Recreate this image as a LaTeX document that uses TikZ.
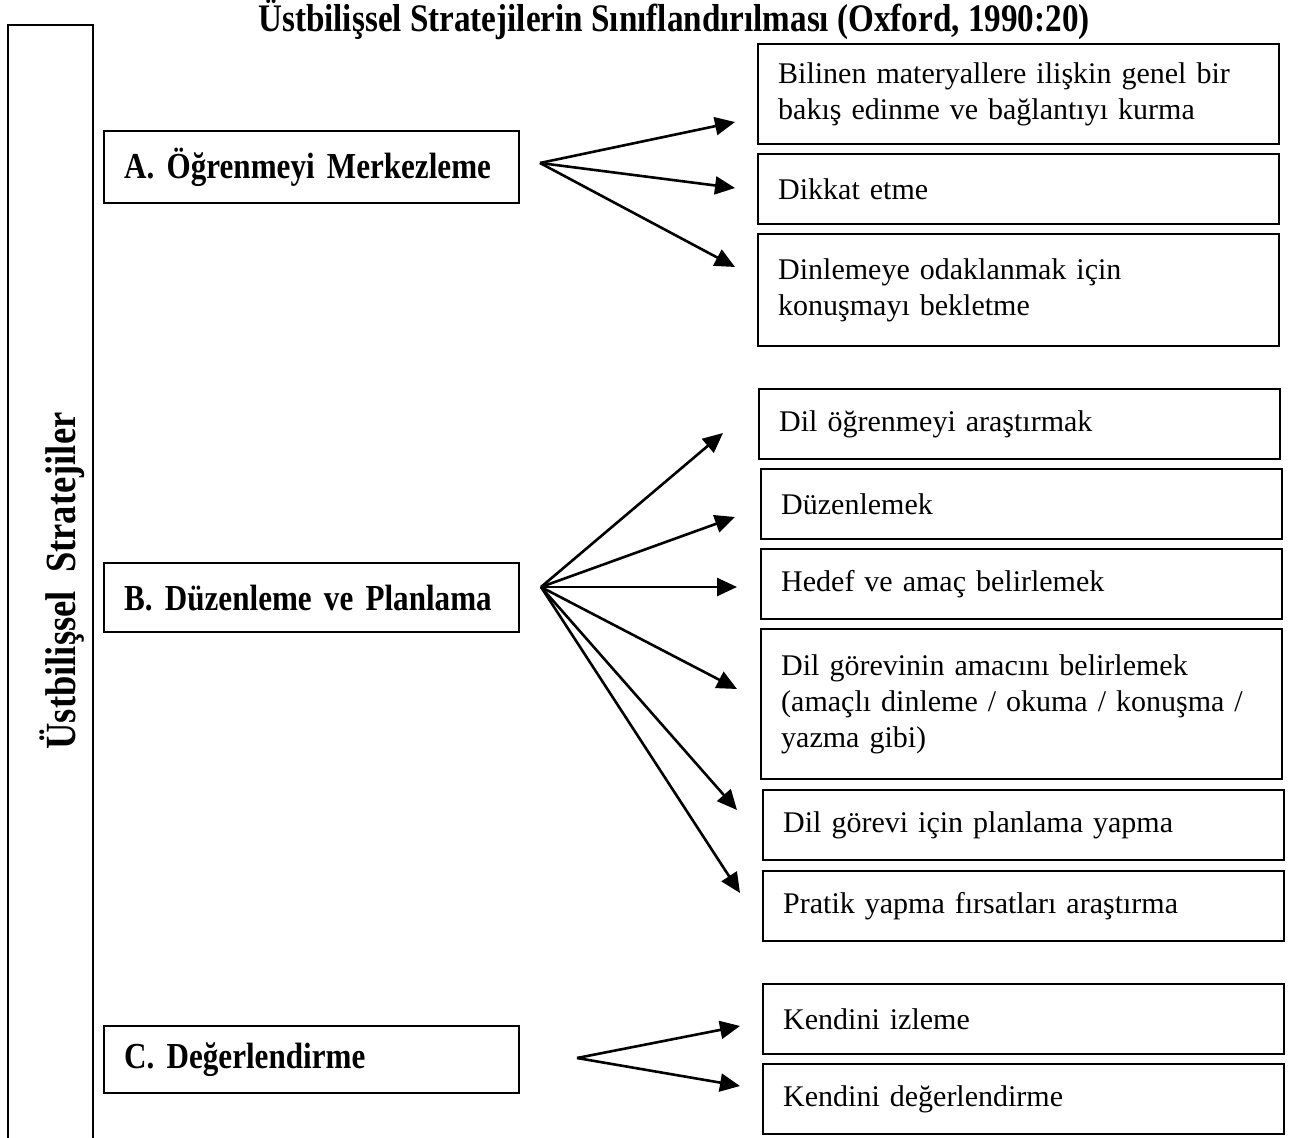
\documentclass[tikz,border=0pt]{standalone}
\usepackage{fontspec}
\setmainfont{Liberation Serif}
\newfontfamily\narrowserif[FakeStretch=0.85]{Liberation Serif}
\usepackage{tikz}
\usetikzlibrary{arrows.meta, positioning}
\tikzset{
  subbox/.style={rectangle, draw=black, line width=1.2pt, anchor=north west,
    text width=240.5pt, align=left, inner xsep=10pt, inner ysep=0pt,
    minimum height=35pt, font=\fontsize{15}{18}\selectfont},
  mainbox/.style={rectangle, draw=black, line width=1.2pt, anchor=north west,
    text width=187.5pt, align=left, inner xsep=10pt, inner ysep=0pt,
    minimum height=35pt, font=\narrowserif\bfseries\fontsize{18.3}{22}\selectfont},
  arrow/.style={-{Triangle[length=10pt,width=9pt]}, line width=1.3pt, color=black},
  frame/.style={line width=1.2pt, color=black}
}

\begin{document}
\begin{tikzpicture}[x=0.5pt, y=-0.5pt]
  \useasboundingbox (0,0) rectangle (1294,1138);

  % Title
  \node[font=\narrowserif\bfseries\fontsize{19.5}{22}\selectfont] (title) at (674,19)
    {Üstbilişsel Stratejilerin Sınıflandırılması (Oxford, 1990:20)};

  % Side frame, open at the bottom
  \draw[frame] (8,1138) -- (8,25) -- (93,25) -- (93,1138);
  \node[rotate=90, font=\narrowserif\bfseries\fontsize{21.5}{24}\selectfont] (side) at (62,581)
    {Üstbilişsel\ \ Stratejiler};

  % A. Ogrenmeyi Merkezleme
  \node[mainbox, minimum height=36pt] (ma) at (103,130) {A. Öğrenmeyi Merkezleme};
  \node[subbox, minimum height=50pt] (a1) at (757,43)
    {Bilinen materyallere ilişkin genel bir\\bakış edinme ve bağlantıyı kurma};
  \node[subbox] (a2) at (757,153) {Dikkat etme};
  \node[subbox, minimum height=56pt] (a3) at (757,233)
    {Dinlemeye odaklanmak için\\konuşmayı bekletme};

  \coordinate (afan) at (540,163);
  \coordinate (a1end) at (735,122);
  \coordinate (a2end) at (735,188);
  \coordinate (a3end) at (735,267);
  \draw[arrow] (afan) -- (a1end);
  \draw[arrow] (afan) -- (a2end);
  \draw[arrow] (afan) -- (a3end);

  % B. Duzenleme ve Planlama
  \node[mainbox, minimum height=34.5pt] (mb) at (103,562) {B. Düzenleme ve Planlama};
  \node[subbox] (b1) at (758,388) {Dil öğrenmeyi araştırmak};
  \node[subbox] (b2) at (760,468) {Düzenlemek};
  \node[subbox] (b3) at (760,548) {Hedef ve amaç belirlemek};
  \node[subbox, minimum height=75pt] (b4) at (760,628)
    {Dil görevinin amacını belirlemek\\(amaçlı dinleme / okuma / konuşma /\\yazma gibi)};
  \node[subbox] (b5) at (762,789) {Dil görevi için planlama yapma};
  \node[subbox] (b6) at (762,870) {Pratik yapma fırsatları araştırma};

  \coordinate (bfan) at (541,587);
  \coordinate (b1end) at (723,433);
  \coordinate (b2end) at (735,517);
  \coordinate (b3end) at (737,587);
  \coordinate (b4end) at (737,689);
  \coordinate (b5end) at (737,810);
  \coordinate (b6end) at (740,893);
  \draw[arrow] (bfan) -- (b1end);
  \draw[arrow] (bfan) -- (b2end);
  \draw[arrow] (bfan) -- (b3end);
  \draw[arrow] (bfan) -- (b4end);
  \draw[arrow] (bfan) -- (b5end);
  \draw[arrow] (bfan) -- (b6end);

  % C. Degerlendirme
  \node[mainbox, minimum height=33.5pt] (mc) at (103,1025) {C. Değerlendirme};
  \node[subbox] (c1) at (762,983) {Kendini izleme};
  \node[subbox] (c2) at (762,1063) {Kendini değerlendirme};

  \coordinate (cfan) at (577,1058);
  \coordinate (c1end) at (740,1026);
  \coordinate (c2end) at (740,1086);
  \draw[arrow] (cfan) -- (c1end);
  \draw[arrow] (cfan) -- (c2end);
\end{tikzpicture}
\end{document}
